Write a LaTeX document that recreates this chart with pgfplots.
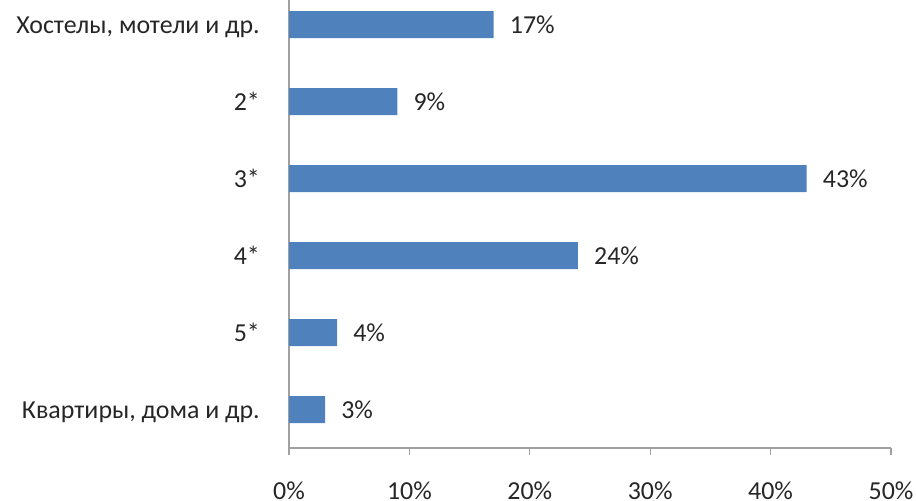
\documentclass[border=0pt]{standalone}
\usepackage{fontspec}
\setmainfont{Carlito}
\usepackage{pgfplots}
\pgfplotsset{compat=1.18}
\definecolor{barblue}{HTML}{4F81BD}
\definecolor{axisgray}{HTML}{A0A0A0}
\definecolor{txt}{HTML}{262626}
\newcommand{\lblfont}{\fontsize{26}{30}\selectfont}

\begin{document}
\begin{tikzpicture}
\begin{axis}[
	at={(289bp,53bp)}, anchor=south west,
	scale only axis, width=602bp, height=462bp,
	xbar, bar width=27bp,
	xmin=0, xmax=50, ymin=-0.5, ymax=5.5, y dir=reverse,
	axis x line*=bottom, axis y line*=left,
	axis line style={axisgray, line width=1.2bp},
	tick align=outside,
	major tick length=7bp, minor tick length=6bp,
	xtick={0,10,...,50},
	xticklabel={\pgfmathprintnumber{\tick}\%},
	/pgf/number format/assume math mode=true,
	ytick={0,...,5},
	yticklabels={{Хостелы, мотели и др.},2*,3*,4*,5*,{Квартиры, дома и др.}},
	minor ytick={-0.5,0.5,...,5.5},
	x tick style={axisgray, line width=1.2bp},
	ytick style={draw=none},
	minor y tick style={axisgray, line width=1.2bp},
	x tick label style={font=\lblfont, text=txt, inner sep=0pt, anchor=base, yshift=-44bp},
	y tick label style={font=\lblfont, text=txt, inner sep=0pt, anchor=base east, yshift=-8.5bp, xshift=-22bp},
	nodes near coords={\pgfmathprintnumber{\pgfplotspointmeta}\%},
	nodes near coords style={font=\lblfont, text=txt, inner sep=0pt, anchor=base west, xshift=16bp, yshift=-8.5bp},
]
\addplot[fill=barblue, draw=none] coordinates {
	(17,0) (9,1) (43,2) (24,3) (4,4) (3,5)
};
\end{axis}
\pgfresetboundingbox
\path[use as bounding box] (0,0) rectangle (916bp,501bp);
\end{tikzpicture}
\end{document}
